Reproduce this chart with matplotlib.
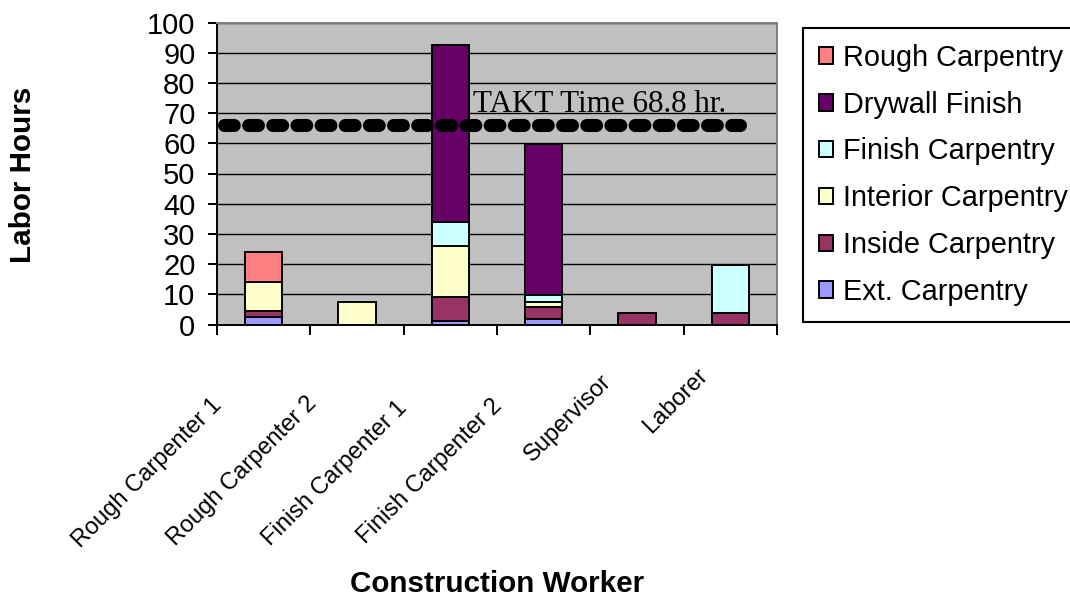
import matplotlib
matplotlib.use("Agg")
import matplotlib.pyplot as plt
import matplotlib.transforms as mtransforms
from matplotlib import font_manager
from matplotlib.patches import Patch

# ---------------- data ----------------
categories = ["Rough Carpenter 1", "Rough Carpenter 2", "Finish Carpenter 1",
              "Finish Carpenter 2", "Supervisor", "Laborer"]
ext_carpentry = [2.5, 0, 1.2, 1.8, 0, 0]
inside_carpentry = [2.0, 0, 8.0, 4.0, 3.7, 3.7]
interior_carpentry = [9.5, 7.5, 16.8, 1.7, 0, 0]
finish_carpentry = [0, 0, 8.0, 2.4, 0, 16.0]
drywall_finish = [0, 0, 58.5, 50.0, 0, 0]
rough_carpentry = [10.0, 0, 0, 0, 0, 0]

series_names = ["Ext. Carpentry", "Inside Carpentry", "Interior Carpentry",
                "Finish Carpentry", "Drywall Finish", "Rough Carpentry"]
series_values = [ext_carpentry, inside_carpentry, interior_carpentry,
                 finish_carpentry, drywall_finish, rough_carpentry]
series_colors = ["#9999FF", "#993366", "#FFFFCC", "#CCFFFF", "#660066", "#FF8080"]

takt_level = 66.0
takt_label = "TAKT Time 68.8 hr."
y_ticks = list(range(0, 101, 10))

# ---------------- figure ----------------
W, H = 1070, 598
fig = plt.figure(figsize=(W / 100, H / 100), dpi=100)
ax = fig.add_axes([217 / W, 1 - 324.5 / H, 560 / W, 302 / H])
ax.set_facecolor("#C0C0C0")

sans = "Liberation Sans"
serif = "Liberation Serif"

# narrow face for rotated category labels (Excel squeezes rotated text)
try:
    font_manager.findfont(font_manager.FontProperties(family="Liberation Sans Narrow"),
                          fallback_to_default=False)
    cat_family, cat_size = "Liberation Sans Narrow", 21
except Exception:
    cat_family, cat_size = sans, 17

x = list(range(len(categories)))
bottom = [0.0] * len(categories)
for vals, col in zip(series_values, series_colors):
    xs = [xi for xi, v in zip(x, vals) if v > 0]
    hs = [v for v in vals if v > 0]
    bs = [b for b, v in zip(bottom, vals) if v > 0]
    ax.bar(xs, hs, width=0.4, bottom=bs, color=col, edgecolor="black",
           linewidth=1.4, zorder=3)
    bottom = [b + v for b, v in zip(bottom, vals)]

# TAKT line
ax.plot([-0.43, 5.10], [takt_level, takt_level], color="black", lw=9.4,
        linestyle=(0, (0.75, 1.1)), dash_capstyle="round", zorder=4)
ax.text(2.24, 70.4, takt_label, fontfamily=serif, fontsize=22.4,
        va="baseline", ha="left", zorder=5)

ax.set_xlim(-0.5, 5.5)
ax.set_ylim(0, 100)

# grid
ax.set_yticks(y_ticks)
ax.yaxis.grid(True, color="black", linewidth=1.0)
ax.set_axisbelow(True)
ax.set_yticklabels([str(t) for t in y_ticks], fontfamily=sans, fontsize=21)
ax.tick_params(axis="y", direction="out", length=6.5, width=1.4, pad=9, colors="black")

# x ticks at category boundaries
ax.set_xticks([i - 0.5 for i in range(len(categories) + 1)])
ax.set_xticklabels([])
ax.tick_params(axis="x", direction="out", length=7, width=1.4)

for s in ["left", "bottom"]:
    ax.spines[s].set_color("black")
    ax.spines[s].set_linewidth(1.4)
for s in ["top", "right"]:
    ax.spines[s].set_color("#808080")
    ax.spines[s].set_linewidth(1.4)

# rotated category labels (anchor = top-right corner of text box)
label_offsets = [(-53, 70), (-51, 68), (-54, 72), (-53, 70), (-37, 46), (-34, 40)]
base = mtransforms.blended_transform_factory(ax.transData, ax.transAxes)
for xi, lab, (dx, dy) in zip(x, categories, label_offsets):
    tr = base + mtransforms.ScaledTranslation(dx / 100, -dy / 100, fig.dpi_scale_trans)
    ax.text(xi, 0, lab, transform=tr, rotation=45, rotation_mode="anchor",
            ha="right", va="top", fontfamily=cat_family, fontsize=cat_size,
            clip_on=False)

# axis titles
fig.text(497 / W, 1 - 584 / H, "Construction Worker", ha="center", va="center",
         fontfamily=sans, fontsize=21.3, fontweight="bold")
fig.text(23 / W, 1 - 175 / H, "Labor Hours", ha="center", va="center",
         rotation=90, fontfamily=sans, fontsize=21.3, fontweight="bold")

# legend
handles = [Patch(facecolor=c, edgecolor="black", linewidth=1.4)
           for c in series_colors][::-1]
labels = series_names[::-1]
leg = fig.legend(handles, labels, loc="upper left",
                 bbox_to_anchor=(803 / W, 1 - 28 / H), bbox_transform=fig.transFigure,
                 frameon=True, fancybox=False, edgecolor="black", framealpha=1,
                 borderpad=0.55, handlelength=0.5, handleheight=0.5,
                 handletextpad=0.33, labelspacing=0.65, borderaxespad=0,
                 prop={"family": sans, "size": 20.8})
leg.get_frame().set_linewidth(1.5)

fig.savefig("out.png", dpi=100)
